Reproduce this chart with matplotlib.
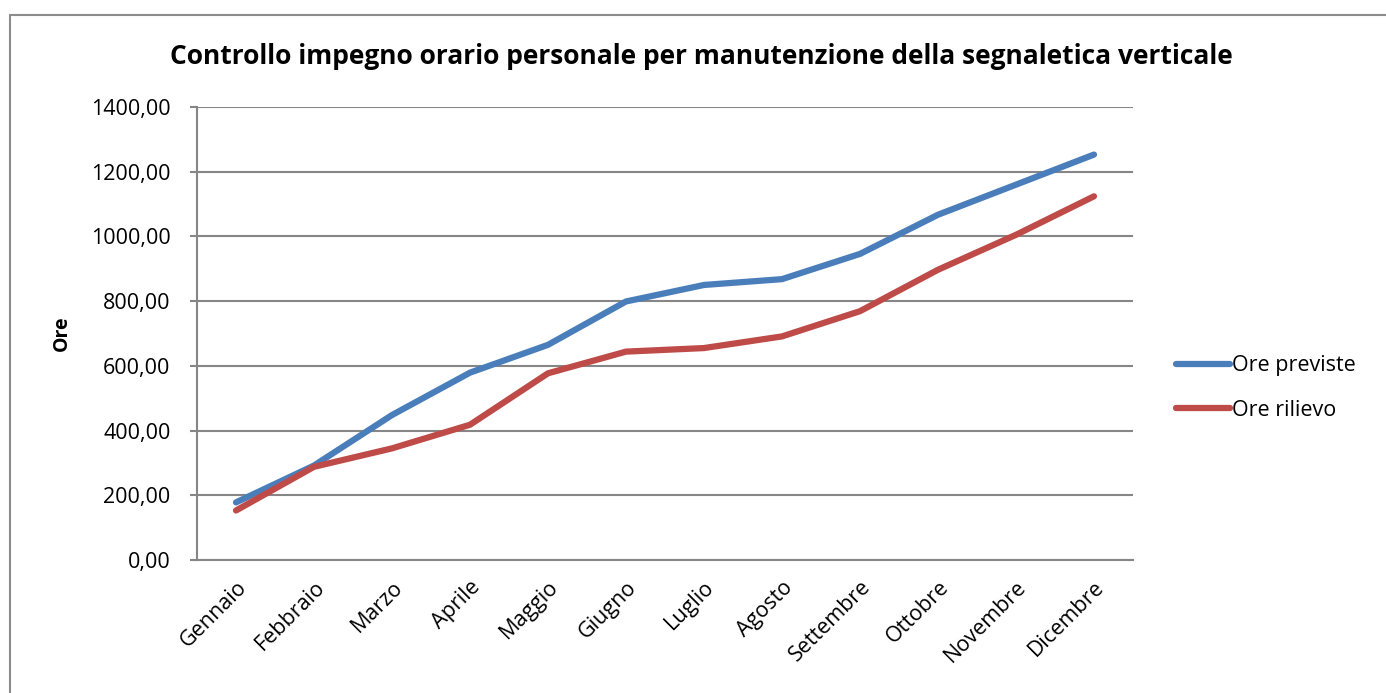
import matplotlib
matplotlib.use("Agg")
import matplotlib.pyplot as plt
from matplotlib.patches import Rectangle
from matplotlib.ticker import FuncFormatter

mesi = ["Gennaio", "Febbraio", "Marzo", "Aprile", "Maggio", "Giugno",
        "Luglio", "Agosto", "Settembre", "Ottobre", "Novembre", "Dicembre"]
ore_previste = [178, 292, 448, 579, 665, 799, 850, 868, 946, 1067, 1160, 1253]
ore_rilievo = [153, 288, 345, 418, 577, 644, 655, 691, 769, 897, 1005, 1124]

plt.rcParams['font.family'] = ['Open Sans', 'DejaVu Sans']

fig = plt.figure(figsize=(13.86, 6.93), dpi=100)
W, H = 1386, 693
ax = fig.add_axes([197 / W, 1 - 560 / H, (1133 - 197) / W, (560 - 107) / H])

# chart border
fig.patches.append(Rectangle((10 / W, -0.01), 1.2, 1 - 15 / H + 0.01, transform=fig.transFigure,
                             fill=False, edgecolor="#8c8c8c", linewidth=1.5))

x = range(len(mesi))
ax.plot(x, ore_previste, color="#4a7ebb", linewidth=4.5, label="Ore previste",
        solid_capstyle="round", solid_joinstyle="round")
ax.plot(x, ore_rilievo, color="#be4b48", linewidth=4.5, label="Ore rilievo",
        solid_capstyle="round", solid_joinstyle="round")

ax.set_xlim(-0.5, len(mesi) - 0.5)
ax.set_ylim(0, 1400)
ax.set_yticks(range(0, 1401, 200))
ax.yaxis.set_major_formatter(FuncFormatter(lambda v, p: f"{v:.2f}".replace(".", ",")))
ax.grid(axis="y", color="#868686", linewidth=1.5)
ax.set_axisbelow(True)

ax.set_xticks(list(x))
ax.set_xticklabels(mesi, rotation=45, ha="right", rotation_mode="anchor")
ax.tick_params(axis="x", length=0, labelsize=15.5, pad=12)
ax.tick_params(axis="y", length=5, width=1.5, color="#868686", labelsize=15.5, pad=14)

for s in ["top", "right"]:
    ax.spines[s].set_visible(False)
for s in ["left", "bottom"]:
    ax.spines[s].set_color("#868686")
    ax.spines[s].set_linewidth(1.5)

ax.set_ylabel("Ore", fontsize=14, fontweight="bold", labelpad=14)

fig.text(701 / W, 1 - 57 / H, "Controllo impegno orario personale per manutenzione della segnaletica verticale",
         ha="center", va="center", fontsize=19, fontweight="bold")

fig.legend(loc="center left", bbox_to_anchor=(1157 / W, 1 - 388 / H), frameon=False,
           fontsize=15.5, handlelength=2.5, handletextpad=0.1, labelspacing=1.1)

fig.savefig("out.png", dpi=100)
